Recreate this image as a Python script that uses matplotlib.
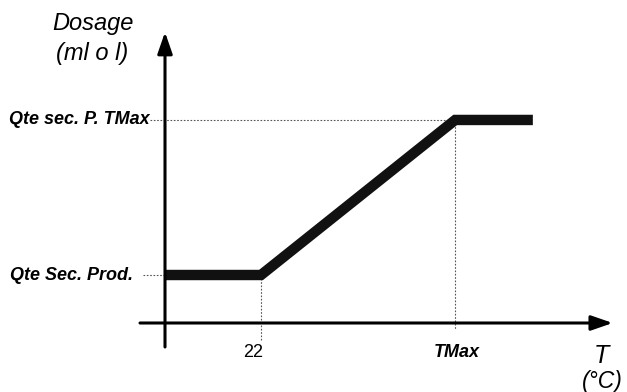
import matplotlib
matplotlib.use("Agg")
import matplotlib.pyplot as plt

# ---- data (arbitrary units) ----
temps = [0.0, 22.0, 66.5, 84.3]          # T (°C); 66.5 is "TMax"
dosage = [1.0, 1.0, 4.23, 4.23]          # Dosage
t_low, t_max = 22.0, 66.5
d_low, d_high = 1.0, 4.23
x_tick_labels = ["22", "TMax"]
y_tick_labels = ["Qte Sec. Prod.", "Qte sec. P. TMax"]

plt.rcParams['font.family'] = ['Liberation Sans', 'DejaVu Sans']

W, H = 627, 392
fig = plt.figure(figsize=(W / 100, H / 100), dpi=100)
ax = fig.add_axes([0, 0, 1, 1])
sx, sy = 4.3636, 48.0
ax.set_xlim(-165 / sx, (W - 165) / sx)
ax.set_ylim((323 - H) / sy, 323 / sy)
ax.axis('off')

dot = dict(color='#555555', lw=0.8, ls=(0, (1.5, 1.5)))
# guide lines
ax.plot([-3.44, t_max], [d_high, d_high], **dot)
ax.plot([t_max, t_max], [d_high, -0.15], **dot)
ax.plot([-5.0, 0], [d_low, d_low], **dot)
ax.plot([t_low, t_low], [d_low, -0.35], **dot)

# axes with arrows
arrow = dict(arrowstyle='-|>,head_length=1.3,head_width=0.45', lw=2.2,
             color='black', shrinkA=0, shrinkB=0)
ax.annotate('', xy=(0, 6.06), xytext=(0, -0.5), arrowprops=arrow)
ax.annotate('', xy=(102.6, 0), xytext=(-5.73, 0), arrowprops=arrow)

# curve
ax.plot(temps, dosage, color='#111111', lw=7.5, solid_joinstyle='miter',
        solid_capstyle='butt')

# tick labels
ax.text(t_low - 1.8, -0.62, x_tick_labels[0], ha='center', va='center', fontsize=13)
ax.text(t_max + 0.4, -0.62, x_tick_labels[1], ha='center', va='center', fontsize=13,
        fontweight='bold', style='italic')
ax.text(-7.3, d_low, y_tick_labels[0], ha='right', va='center', fontsize=13,
        fontweight='bold', style='italic')
ax.text(-3.44, d_high, y_tick_labels[1], ha='right', va='center', fontsize=13,
        fontweight='bold', style='italic')

# axis titles
ax.text(-16.5, 323 / sy - 23 / sy, "Dosage", ha='center', va='center', fontsize=17, style='italic')
ax.text(-16.7, 323 / sy - 53 / sy, "(ml o l)", ha='center', va='center', fontsize=17, style='italic')
ax.text(100.0, -0.68, "T", ha='center', va='center', fontsize=18, style='italic')
ax.text(100.2, -1.22, "(°C)", ha='center', va='center', fontsize=16.5, style='italic')

fig.savefig("out.png", dpi=100)
